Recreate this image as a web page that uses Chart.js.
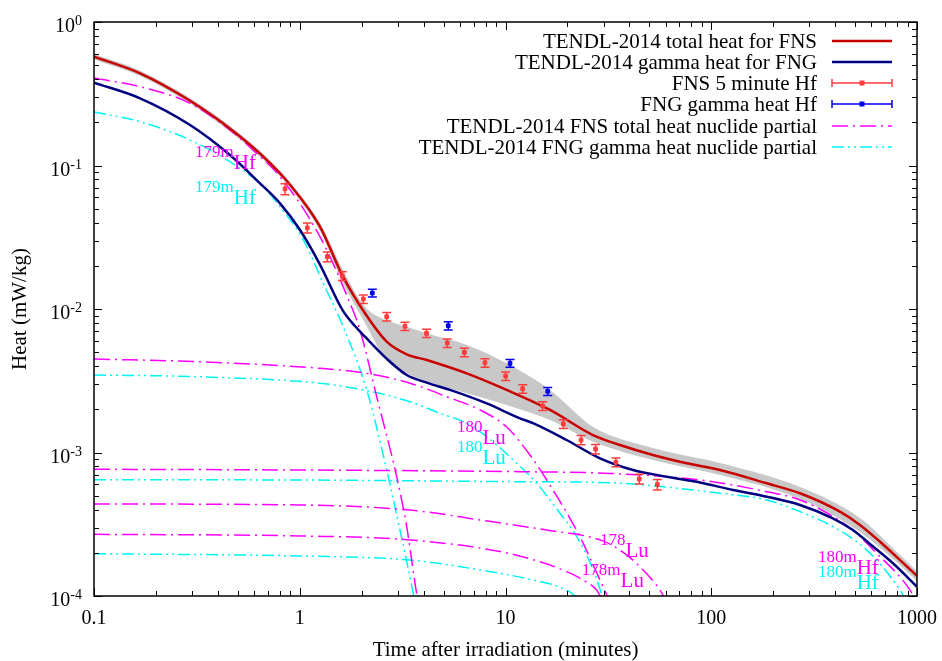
<!DOCTYPE html>
<html>
<head>
<meta charset="utf-8">
<script src="https://cdn.jsdelivr.net/npm/chart.js@4.4.1/dist/chart.umd.min.js"></script>
<style>
html, body { margin: 0; padding: 0; background: #fff; }
#wrap { width: 942px; height: 661px; position: relative; }
</style>
</head>
<body>
<div id="wrap"><canvas id="chart"></canvas></div>
<script>
// Time after irradiation (minutes) / Heat (mW/kg)

// TENDL-2014 total heat for FNS
var fnsTotalT = [0.1, 0.1675, 0.293, 0.4738, 0.663, 0.897, 1.254, 1.623, 2.076, 2.646, 3.31, 4.14, 6.48, 10.13, 16.46, 26.6, 36.0, 52.1, 76.0, 110.3, 186, 270, 422, 528, 661, 827, 1000];
var fnsTotalH = [0.573, 0.439, 0.2825, 0.1742, 0.1157, 0.0734, 0.0375, 0.0168, 0.00933, 0.00592, 0.00483, 0.00441, 0.00356, 0.00273, 0.00198, 0.001324, 0.001128, 0.000961, 0.000841, 0.000755, 0.00061, 0.00052, 0.000387, 0.000313, 0.000239, 0.000178, 0.000138];

// uncertainty band around the FNS total
var bandT  = [0.1, 0.1675, 0.293, 0.4738, 0.663, 0.897, 1.254, 1.623, 2.076, 2.626, 3.31, 4.14, 6.48, 10.13, 16.46, 26.6, 52.1, 110.3, 270, 528, 827, 1000];
var bandHi = [0.598, 0.458, 0.295, 0.182, 0.121, 0.0768, 0.0397, 0.0187, 0.01038, 0.00838, 0.00753, 0.00677, 0.00561, 0.00418, 0.00273, 0.001513, 0.001075, 0.000845, 0.000575, 0.00035, 0.000193, 0.000149];
var bandLo = [0.548, 0.420, 0.270, 0.166, 0.110, 0.0700, 0.035, 0.01518, 0.00799, 0.00441, 0.00356, 0.00311, 0.00259, 0.00214, 0.001684, 0.00119, 0.000886, 0.000697, 0.000474, 0.000279, 0.000164, 0.000127];

// TENDL-2014 gamma heat for FNG
var fngGammaT = [0.1, 0.1675, 0.293, 0.458, 0.641, 0.802, 1.003, 1.254, 1.623, 1.855, 2.076, 2.626, 3.31, 4.14, 5.37, 8.10, 11.77, 13.6, 19.8, 28.8, 41.7, 60.8, 88.2, 127.6, 186, 270, 390, 488, 611, 764, 1000];
var fngGammaH = [0.378, 0.294, 0.1915, 0.1183, 0.0751, 0.0545, 0.0355, 0.0204, 0.00969, 0.00761, 0.00641, 0.00455, 0.00347, 0.00307, 0.00273, 0.0022, 0.00173, 0.0016, 0.001222, 0.000911, 0.000755, 0.000678, 0.000618, 0.000548, 0.000492, 0.000431, 0.000348, 0.000288, 0.000221, 0.000169, 0.000116];

// FNS 5 minute Hf measurements
var fnsExpT   = [0.848, 1.088, 1.361, 1.610, 2.037, 2.646, 3.247, 4.13, 5.21, 6.31, 7.95, 10.02, 12.12, 15.16, 19.10, 23.3, 27.4, 34.4, 44.7, 54.7];
var fnsExpH   = [0.0686, 0.0368, 0.02314, 0.01698, 0.01174, 0.00884, 0.00758, 0.00677, 0.00579, 0.00499, 0.00422, 0.00341, 0.00278, 0.00211, 0.00158, 0.001222, 0.001058, 0.000855, 0.000654, 0.000598];
var fnsExpErr = [0.0060, 0.0030, 0.0018, 0.0012, 0.0008, 0.0006, 0.0005, 0.00045, 0.00039, 0.00034, 0.00029, 0.00023, 0.00019, 0.00015, 0.00011, 0.00009, 0.00008, 0.00006, 0.00005, 0.00005];

// FNG gamma heat Hf measurements
var fngExpT   = [2.253, 5.27, 10.52, 16.04];
var fngExpH   = [0.01293, 0.00765, 0.00418, 0.00267];
var fngExpErr = [0.0008, 0.0005, 0.00026, 0.00017];

// nuclide partials, FNS total heat (magenta)
var fnsHf179mT = [0.1, 0.1675, 0.293, 0.474, 0.593, 0.802, 1.254, 1.754, 1.962, 2.366, 2.959, 3.31, 3.70, 3.85];
var fnsHf179mH = [0.407, 0.354, 0.2713, 0.170, 0.128, 0.0835, 0.0319, 0.01101, 0.00714, 0.00245, 0.000678, 0.000304, 0.0001044, 0.00008];
var fnsLu180T = [0.1, 0.3275, 1.254, 2.116, 3.434, 5.18, 7.52, 10.13, 13.15, 17.02, 23.03, 28.8, 33.5];
var fnsLu180H = [0.00448, 0.00429, 0.00386, 0.00356, 0.00304, 0.00245, 0.00198, 0.001506, 0.000961, 0.000548, 0.000258, 0.000129, 0.00008];
var fnsHf180mT = [0.1, 1.003, 11.77, 32.2, 88.2, 186, 270, 392, 509, 637, 796, 925, 1000];
var fnsHf180mH = [0.000764, 0.000755, 0.000735, 0.000715, 0.000643, 0.000533, 0.000467, 0.000357, 0.000273, 0.000198, 0.000144, 0.00011, 0.00009];
var fnsLu178T = [0.1, 1.003, 3.434, 7.52, 15.86, 28.8, 36.0, 45.0, 56.3, 61];
var fnsLu178H = [0.000438, 0.000431, 0.000397, 0.000339, 0.000288, 0.000246, 0.000209, 0.00016, 0.00011, 0.00009];
var fnsLu178mT = [0.1, 1.003, 3.434, 9.40, 14.72, 19.8, 23.9, 27.7, 30];
var fnsLu178mH = [0.000269, 0.000262, 0.000246, 0.000204, 0.000173, 0.000148, 0.000129, 0.00011, 0.00009];

// nuclide partials, FNG gamma heat (cyan)
var fngHf179mT = [0.1, 0.1675, 0.293, 0.458, 0.665, 0.802, 1.041, 1.301, 1.625, 2.116, 2.646, 3.07, 3.564, 3.7];
var fngHf179mH = [0.236, 0.202, 0.1506, 0.1063, 0.0712, 0.0516, 0.0303, 0.0151, 0.00753, 0.00273, 0.000755, 0.000288, 0.0001044, 0.00008];
var fngLu180T = [0.1, 0.3275, 1.254, 2.037, 3.434, 4.80, 6.48, 8.10, 10.91, 14.18, 18.4, 22.2, 26.7, 31];
var fngLu180H = [0.00347, 0.00337, 0.00304, 0.00273, 0.00226, 0.001875, 0.0016, 0.00129, 0.000886, 0.00061, 0.000377, 0.000259, 0.000152, 0.00008];
var fngHf180mT = [0.1, 1.003, 11.77, 32.2, 110.3, 186, 270, 392, 509, 637, 827, 900];
var fngHf180mH = [0.000646, 0.000643, 0.000626, 0.000615, 0.00052, 0.000467, 0.000387, 0.000304, 0.000239, 0.000178, 0.00011, 0.00009];
var fngLu178T = [0.1, 1.003, 3.434, 7.52, 13.65, 19.8, 24];
var fngLu178H = [0.000197, 0.00019, 0.000178, 0.000152, 0.000129, 0.00011, 0.00009];

// axes
var xTickVals = [0.1, 1, 10, 100, 1000];
var xTickText = ['0.1', '1', '10', '100', '1000'];
var yTickVals = [1e-4, 1e-3, 1e-2, 1e-1, 1];
var yTickExp  = ['-4', '-3', '-2', '-1', '0'];

// nuclide labels on the curves
var nucSup = ['179m', '179m', '180', '180', '178', '178m', '180m', '180m'];
var nucEl  = ['Hf', 'Hf', 'Lu', 'Lu', 'Lu', 'Lu', 'Hf', 'Hf'];
var nucSet = ['FNS', 'FNG', 'FNS', 'FNG', 'FNS', 'FNS', 'FNS', 'FNG'];
var nucT   = [0.31, 0.31, 5.81, 5.81, 28.8, 23.5, 330, 330];
var nucH   = [0.1058, 0.0603, 0.00129, 0.00093, 0.000209, 0.000129, 0.00016, 0.000126];

var legendNames = ['TENDL-2014 total heat for FNS', 'TENDL-2014 gamma heat for FNG', 'FNS 5 minute Hf',
                   'FNG gamma heat Hf', 'TENDL-2014 FNS total heat nuclide partial', 'TENDL-2014 FNG gamma heat nuclide partial'];

var RED = '#c80000', NAVY = '#000080', EXPRED = '#ff3c3c', EXPBLUE = '#0000f0';
var MAG = '#ff00ff', CYAN = '#00f4f4', GREY = '#c8c8c8';
var DASH_FNS = [16, 5, 2, 5];
var DASH_FNG = [12, 4, 2, 4, 2, 4];
var FONT = '"Liberation Serif", "DejaVu Serif", serif';

function pts(xs, ys) {
  return xs.map(function (x, i) { return {x: x, y: ys[i]}; });
}

function courbe(xs, ys, color, width, dash, order) {
  return {
    data: pts(xs, ys), showLine: true, borderColor: color, backgroundColor: color,
    borderWidth: width, borderDash: dash || [], pointRadius: 0, pointHoverRadius: 0,
    fill: false, cubicInterpolationMode: 'monotone', order: order
  };
}

function mesures(xs, ys, errs, color) {
  return {
    data: pts(xs, ys), errs: errs, showLine: false, borderColor: color, backgroundColor: color,
    pointStyle: 'rect', pointRadius: 2.6, pointBorderWidth: 1, order: 1
  };
}

var datasets = [
  // band: upper filled down to the lower one
  {data: pts(bandT, bandHi), showLine: true, borderWidth: 0, borderColor: 'rgba(0,0,0,0)',
   backgroundColor: GREY, fill: '+1', pointRadius: 0, cubicInterpolationMode: 'monotone', order: 30},
  {data: pts(bandT, bandLo), showLine: true, borderWidth: 0, borderColor: 'rgba(0,0,0,0)',
   fill: false, pointRadius: 0, cubicInterpolationMode: 'monotone', order: 30},
  courbe(fngHf179mT, fngHf179mH, CYAN, 1.5, DASH_FNG, 10),
  courbe(fngLu180T, fngLu180H, CYAN, 1.5, DASH_FNG, 10),
  courbe(fngHf180mT, fngHf180mH, CYAN, 1.5, DASH_FNG, 10),
  courbe(fngLu178T, fngLu178H, CYAN, 1.5, DASH_FNG, 10),
  courbe(fnsHf179mT, fnsHf179mH, MAG, 1.5, DASH_FNS, 9),
  courbe(fnsLu180T, fnsLu180H, MAG, 1.5, DASH_FNS, 9),
  courbe(fnsHf180mT, fnsHf180mH, MAG, 1.5, DASH_FNS, 9),
  courbe(fnsLu178T, fnsLu178H, MAG, 1.5, DASH_FNS, 9),
  courbe(fnsLu178mT, fnsLu178mH, MAG, 1.5, DASH_FNS, 9),
  courbe(fngGammaT, fngGammaH, NAVY, 2.5, [], 3),
  courbe(fnsTotalT, fnsTotalH, RED, 2.5, [], 2),
  mesures(fnsExpT, fnsExpH, fnsExpErr, EXPRED),
  mesures(fngExpT, fngExpH, fngExpErr, EXPBLUE)
];

// error bars, drawn just before their points
var barresErreur = {
  id: 'barresErreur',
  beforeDatasetDraw: function (chart, args) {
    var ds = chart.data.datasets[args.index];
    if (!ds.errs) return;
    var ctx = chart.ctx, xs = chart.scales.x, ys = chart.scales.y;
    ctx.save();
    ctx.strokeStyle = ds.borderColor;
    ctx.lineWidth = 1.5;
    ds.data.forEach(function (p, i) {
      var px = xs.getPixelForValue(p.x);
      var y1 = ys.getPixelForValue(p.y + ds.errs[i]);
      var y2 = ys.getPixelForValue(p.y - ds.errs[i]);
      ctx.beginPath();
      ctx.moveTo(px, y1); ctx.lineTo(px, y2);
      ctx.moveTo(px - 4.5, y1); ctx.lineTo(px + 4.5, y1);
      ctx.moveTo(px - 4.5, y2); ctx.lineTo(px + 4.5, y2);
      ctx.stroke();
    });
    ctx.restore();
  }
};

// frame, ticks, labels, legend in gnuplot style
var cadre = {
  id: 'cadre',
  afterDraw: function (chart) {
    var ctx = chart.ctx, a = chart.chartArea, xs = chart.scales.x, ys = chart.scales.y;
    ctx.save();
    ctx.strokeStyle = '#000';
    ctx.lineWidth = 1.5;
    ctx.strokeRect(a.left, a.top, a.right - a.left, a.bottom - a.top);

    ctx.lineWidth = 1;
    ctx.beginPath();
    xTickVals.forEach(function (v, k) {
      for (var m = 1; m <= 9; m++) {
        if (m > 1 && k == xTickVals.length - 1) break;
        var px = Math.round(xs.getPixelForValue(v * m)) + 0.5;
        var len = (m == 1) ? 8 : 5;
        ctx.moveTo(px, a.bottom); ctx.lineTo(px, a.bottom - len);
        ctx.moveTo(px, a.top); ctx.lineTo(px, a.top + len);
      }
    });
    yTickVals.forEach(function (v, k) {
      for (var m = 1; m <= 9; m++) {
        if (m > 1 && k == yTickVals.length - 1) break;
        var py = Math.round(ys.getPixelForValue(v * m)) + 0.5;
        var len = (m == 1) ? 8 : 5;
        ctx.moveTo(a.left, py); ctx.lineTo(a.left + len, py);
        ctx.moveTo(a.right, py); ctx.lineTo(a.right - len, py);
      }
    });
    ctx.stroke();

    ctx.fillStyle = '#000';
    ctx.font = '20px ' + FONT;
    ctx.textAlign = 'center';
    ctx.textBaseline = 'alphabetic';
    xTickVals.forEach(function (v, k) {
      ctx.fillText(xTickText[k], xs.getPixelForValue(v), a.bottom + 28);
    });

    // 10^n labels
    yTickVals.forEach(function (v, k) {
      var py = ys.getPixelForValue(v);
      ctx.font = '14px ' + FONT;
      var we = ctx.measureText(yTickExp[k]).width;
      ctx.textAlign = 'right';
      ctx.fillText(yTickExp[k], 82, py + 3);
      ctx.font = '20px ' + FONT;
      ctx.fillText('10', 82 - we, py + 10);
    });

    ctx.font = '21px ' + FONT;
    ctx.textAlign = 'center';
    ctx.textBaseline = 'middle';
    ctx.fillText('Time after irradiation (minutes)', (a.left + a.right) / 2, 650);
    ctx.save();
    ctx.translate(20, (a.top + a.bottom) / 2);
    ctx.rotate(-Math.PI / 2);
    ctx.fillText('Heat (mW/kg)', 0, 0);
    ctx.restore();

    // nuclide labels
    ctx.textAlign = 'left';
    ctx.textBaseline = 'alphabetic';
    nucSup.forEach(function (s, k) {
      var px = xs.getPixelForValue(nucT[k]);
      var py = ys.getPixelForValue(nucH[k]);
      ctx.fillStyle = nucSet[k] == 'FNS' ? MAG : CYAN;
      ctx.font = '17px ' + FONT;
      ctx.fillText(s, px, py - 5);
      var w = ctx.measureText(s).width;
      ctx.font = '21px ' + FONT;
      ctx.fillText(nucEl[k], px + w, py + 7);
    });

    // legend
    var rows = [41, 62, 83, 104, 126, 147];
    var x0 = 832, x1 = 892;
    ctx.font = '21px ' + FONT;
    ctx.textAlign = 'right';
    ctx.textBaseline = 'middle';
    legendNames.forEach(function (nom, k) {
      var y = rows[k];
      ctx.fillStyle = '#000';
      ctx.fillText(nom, 817, y + 1);
      ctx.beginPath();
      if (k < 2) {
        ctx.strokeStyle = k == 0 ? RED : NAVY;
        ctx.lineWidth = 2.5;
        ctx.setLineDash([]);
        ctx.moveTo(x0, y); ctx.lineTo(x1, y);
        ctx.stroke();
      } else if (k < 4) {
        var c = k == 2 ? EXPRED : EXPBLUE;
        ctx.strokeStyle = c;
        ctx.lineWidth = 1.5;
        ctx.setLineDash([]);
        ctx.moveTo(x0, y); ctx.lineTo(x1, y);
        ctx.moveTo(x0, y - 4); ctx.lineTo(x0, y + 4);
        ctx.moveTo(x1, y - 4); ctx.lineTo(x1, y + 4);
        ctx.stroke();
        ctx.fillStyle = c;
        ctx.fillRect((x0 + x1) / 2 - 2.5, y - 2.5, 5, 5);
      } else {
        ctx.strokeStyle = k == 4 ? MAG : CYAN;
        ctx.lineWidth = 1.5;
        ctx.setLineDash(k == 4 ? DASH_FNS : DASH_FNG);
        ctx.moveTo(x0, y); ctx.lineTo(x1, y);
        ctx.stroke();
        ctx.setLineDash([]);
      }
    });
    ctx.restore();
  }
};

var graphe = new Chart(document.getElementById('chart'), {
  type: 'line',
  data: {datasets: datasets},
  options: {
    responsive: true,
    maintainAspectRatio: false,
    animation: false,
    layout: {padding: {left: 94, right: 25, top: 22, bottom: 65}},
    scales: {
      x: {type: 'logarithmic', min: 0.1, max: 1000, display: false},
      y: {type: 'logarithmic', min: 1e-4, max: 1, display: false}
    },
    plugins: {legend: {display: false}, tooltip: {enabled: false}}
  },
  plugins: [barresErreur, cadre]
});
</script>
</body>
</html>
